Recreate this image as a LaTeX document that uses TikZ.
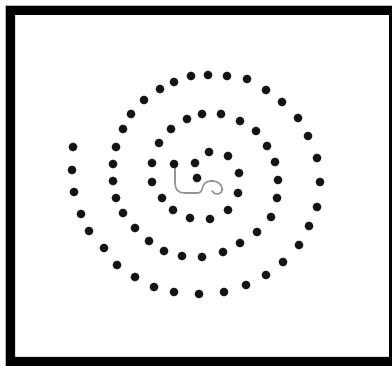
\documentclass[tikz,border=0pt]{standalone}
\usetikzlibrary{arrows.meta}
\begin{document}
\begin{tikzpicture}[x=1pt,y=-1pt,
  spiraldot/.style={fill=black!92},
  framefill/.style={fill=black},
  arrowline/.style={draw=black!42,line width=1.6pt,line cap=round}]
\useasboundingbox (0,0) rectangle (392,366);
\fill[white] (0,0) rectangle (392,366);
\begin{scope}
\clip (0,0) rectangle (392,366);
\fill[framefill,even odd rule] (6,6) rectangle (400,366) (15,15) rectangle (389,357);
\draw[black!30,line width=0.6pt] (5.7,400) -- (5.7,5.7) -- (400,5.7);
\end{scope}
\draw[arrowline,-{Stealth[length=6pt,width=6pt]}]
  (212,191) .. controls (215,196) and (223,195) .. (222,188)
  .. controls (221,180) and (206,178) .. (203,186)
  .. controls (202,190) and (201,193) .. (198,193)
  -- (185,193) .. controls (177,193) and (175,189) .. (175,182) -- (175,161);
\foreach \p in {(73,147),(72,170),(74,192),(81,214),(89,231),(104,248),(117,265),(135,277),(154,287),(174,292),(199,294),(224,292),(246,285),(266,275),(283,262),(299,245),(309,226),(317,207),(320,182),(317,158),(308,136),(298,118),(282,102),(266,90),(247,79),(227,76),(208,75),(191,76),(174,82),(160,89),(144,100),(131,114),(123,129),(116,147),(113,164),(113,181),(116,198),(123,213),(135,228),(149,241),(164,251),(182,256),(202,257),(223,252),(240,243),(257,232),(271,217),(277,198),(278,180),(275,162),(267,146),(256,131),(240,121),(221,114),(202,114),(187,119),(171,129),(159,143),(152,163),(152,182),(162,198),(173,210),(190,218),(210,219),(228,210),(238,193),(239,173),(228,156),(209,152),(195,163),(197,178),(174,164)}
  \fill[spiraldot] \p circle (4.4);
\end{tikzpicture}
\end{document}
